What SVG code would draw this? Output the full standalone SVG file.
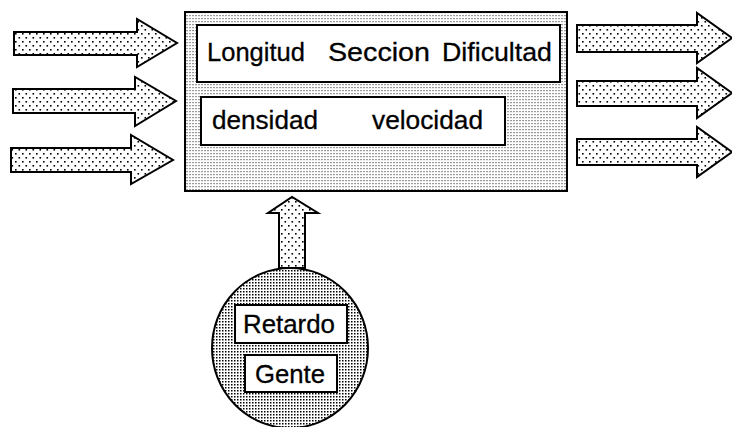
<svg xmlns="http://www.w3.org/2000/svg" width="732" height="427" viewBox="0 0 732 427">
  <defs>
    <!-- sparse staggered dots for the flow arrows -->
    <pattern id="dotsArrow" width="7" height="8" patternUnits="userSpaceOnUse">
      <rect width="7" height="8" fill="#ffffff"/>
      <rect x="1" y="1" width="1.6" height="1.6" fill="#000000"/>
      <rect x="4.5" y="5" width="1.6" height="1.6" fill="#000000"/>
    </pattern>
    <!-- fine grey dither for the main block -->
    <pattern id="ditherGrey" width="3" height="3" patternUnits="userSpaceOnUse">
      <rect width="3" height="3" fill="#ffffff"/>
      <rect x="0" y="0" width="2" height="1.2" fill="#9a9a9a"/>
    </pattern>
    <!-- dense dots for the source disc -->
    <pattern id="dotsDense" width="3" height="3" patternUnits="userSpaceOnUse">
      <rect width="3" height="3" fill="#ffffff"/>
      <rect x="0" y="0" width="1.5" height="1.5" fill="#000000"/>
    </pattern>
  </defs>
  <style>
    .arrow { fill: url(#dotsArrow); stroke: #000; stroke-width: 2; stroke-linejoin: miter; }
    .frame { fill: #ffffff; stroke: #000; stroke-width: 2; }
    .lbl { font-family: "Liberation Sans", Arial, sans-serif; font-size: 26px; fill: #000; stroke: #000; stroke-width: 0.3; }
  </style>

  <rect width="732" height="427" fill="#ffffff"/>

  <g id="connectors">
    <!-- inputs on the left -->
    <path class="arrow" d="M14,32 H137 V19 L177,43 L137,67 V55 H14 Z"/>
    <path class="arrow" d="M13,89 H135 V77 L176,101 L135,126 V113 H13 Z"/>
    <path class="arrow" d="M11,148 H131 V135 L173,160 L131,184 V172 H11 Z"/>
    <!-- outputs on the right -->
    <path class="arrow" d="M577,25 H697 V13 L732,38 L697,63 V52 H577 Z"/>
    <path class="arrow" d="M577,81 H697 V68 L732,93 L697,118 V106 H577 Z"/>
    <path class="arrow" d="M577,139 H697 V127 L732,152 L697,177 V165 H577 Z"/>
    <!-- feed from the source disc up into the block -->
    <path class="arrow" d="M279,268 V213 H268 L292,197 L318,213 H305 V268 Z"/>
  </g>

  <g id="tramo">
    <rect x="185" y="12" width="382" height="179" fill="url(#ditherGrey)" stroke="#000" stroke-width="2"/>
    <g id="atributos">
      <rect class="frame" x="197" y="25" width="363" height="57"/>
      <text class="lbl" x="207" y="61" textLength="98" lengthAdjust="spacingAndGlyphs">Longitud</text>
      <text class="lbl" x="328" y="61" textLength="102" lengthAdjust="spacingAndGlyphs">Seccion</text>
      <text class="lbl" x="442" y="61" textLength="110" lengthAdjust="spacingAndGlyphs">Dificultad</text>
    </g>
    <g id="estado">
      <rect class="frame" x="201" y="97" width="304" height="48"/>
      <text class="lbl" x="212" y="129" textLength="106" lengthAdjust="spacingAndGlyphs">densidad</text>
      <text class="lbl" x="372" y="129" textLength="111" lengthAdjust="spacingAndGlyphs">velocidad</text>
    </g>
  </g>

  <g id="fuente">
    <ellipse cx="290" cy="348" rx="78" ry="80" fill="url(#dotsDense)" stroke="#000" stroke-width="2"/>
    <g id="retardo">
      <rect class="frame" x="235" y="305" width="112" height="38"/>
      <text class="lbl" x="243" y="333" textLength="92" lengthAdjust="spacingAndGlyphs">Retardo</text>
    </g>
    <g id="gente">
      <rect class="frame" x="245" y="355" width="92" height="37"/>
      <text class="lbl" x="255" y="383" textLength="70" lengthAdjust="spacingAndGlyphs">Gente</text>
    </g>
  </g>
</svg>
